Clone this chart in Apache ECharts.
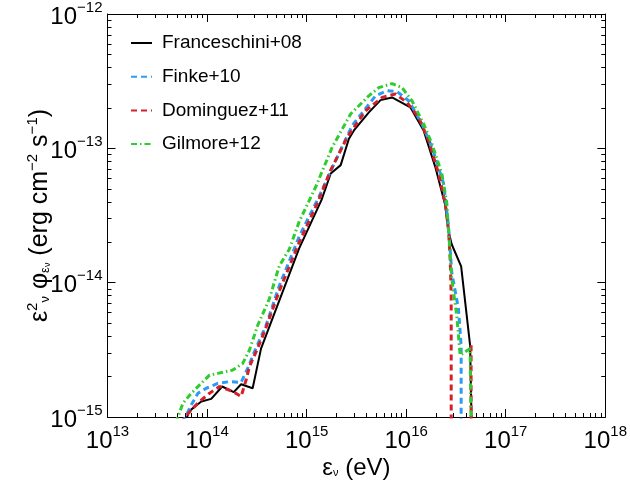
<!DOCTYPE html>
<html><head><meta charset="utf-8">
<script src="https://cdn.jsdelivr.net/npm/echarts@6/dist/echarts.min.js"></script>
<style>html,body{margin:0;padding:0;background:#fff}#c{width:630px;height:485px}</style>
</head><body><div id="c"></div>
<script>
// Series names (legend order)
const seriesNames = ['Franceschini+08', 'Finke+10', 'Dominguez+11', 'Gilmore+12'];

// All values are log10(E / eV) and log10(flux / erg cm^-2 s^-1)
const franceschiniLogE = [13.765, 13.818, 13.942, 14.042, 14.152, 14.268, 14.342, 14.458, 14.542, 14.925, 15.150, 15.242, 15.342, 15.425, 15.475, 15.625, 15.742, 15.858, 16.042, 16.175, 16.292, 16.392, 16.425, 16.458, 16.552, 16.642, 16.658];
const franceschiniLogF = [-15.081, -14.958, -14.884, -14.865, -14.773, -14.815, -14.756, -14.786, -14.491, -13.745, -13.384, -13.187, -13.125, -12.928, -12.867, -12.732, -12.641, -12.621, -12.695, -12.867, -13.138, -13.421, -13.620, -13.716, -13.878, -14.466, -15.081];

const finkeLogE = [13.755, 13.842, 13.908, 13.992, 14.108, 14.225, 14.342, 14.408, 14.475, 14.592, 14.725, 14.925, 15.125, 15.292, 15.458, 15.692, 15.808, 15.908, 16.025, 16.158, 16.258, 16.375, 16.425, 16.458, 16.525, 16.552, 16.552];
const finkeLogF = [-15.044, -14.909, -14.823, -14.786, -14.749, -14.737, -14.742, -14.638, -14.515, -14.319, -14.024, -13.657, -13.359, -13.089, -12.830, -12.609, -12.572, -12.577, -12.646, -12.818, -12.990, -13.261, -13.581, -13.925, -14.196, -14.466, -15.081];

const dominguezLogE = [13.735, 13.842, 13.925, 14.025, 14.125, 14.258, 14.342, 14.392, 14.425, 14.492, 14.575, 14.725, 14.925, 15.108, 15.242, 15.408, 15.592, 15.758, 15.892, 16.008, 16.125, 16.225, 16.325, 16.392, 16.425, 16.442, 16.452, 16.452, null, 16.652, 16.652];
const dominguezLogF = [-15.044, -14.946, -14.884, -14.823, -14.773, -14.810, -14.847, -14.725, -14.626, -14.515, -14.368, -14.063, -13.701, -13.408, -13.162, -12.917, -12.720, -12.621, -12.596, -12.658, -12.769, -12.941, -13.187, -13.408, -13.605, -13.827, -14.097, -15.081, null, -14.466, -15.081];

const gilmoreLogE = [13.685, 13.758, 13.842, 13.942, 14.025, 14.108, 14.258, 14.358, 14.425, 14.508, 14.625, 14.725, 14.825, 14.925, 15.092, 15.258, 15.442, 15.625, 15.725, 15.858, 15.958, 16.058, 16.175, 16.258, 16.358, 16.408, 16.425, 16.458, 16.508, 16.542, 16.642, 16.652];
const gilmoreLogF = [-15.044, -14.897, -14.823, -14.749, -14.688, -14.675, -14.651, -14.601, -14.503, -14.319, -14.122, -13.876, -13.753, -13.546, -13.286, -12.990, -12.744, -12.609, -12.548, -12.518, -12.548, -12.646, -12.818, -12.965, -13.187, -13.408, -13.605, -13.974, -14.245, -14.540, -14.491, -15.081];

// Axis tick labels (decade exponents) and minor tick multipliers
const xTickExponents = [13, 14, 15, 16, 17, 18];
const yTickExponents = [-15, -14, -13, -12];
const minorMultipliers = [2, 3, 4, 5, 6, 7, 8, 9];

const colors = ['#000000', '#2b9bf4', '#d5202a', '#2fcc2f'];

function toPairs(le, lf) {
  return le.map((e, i) => (e === null || lf[i] === null) ? ['-', '-'] : [Math.pow(10, e), Math.pow(10, lf[i])]);
}
function minors(exps) {
  const out = [];
  for (let i = 0; i < exps.length - 1; i++) minorMultipliers.forEach(m => out.push(m * Math.pow(10, exps[i])));
  return out;
}
function expLabel(v) {
  const e = Math.round(Math.log10(v));
  return '{b|10}{s|' + (e < 0 ? '\u2212' + (-e) : e) + '}';
}

const FONT = 'Liberation Sans, Arial, Helvetica, sans-serif';
const labelRich = {
  b: { fontSize: 24, lineHeight: 30, fontFamily: FONT, color: '#000', verticalAlign: 'bottom' },
  s: { fontSize: 15, lineHeight: 15, fontFamily: FONT, color: '#000', verticalAlign: 'bottom', padding: [0, 0, 14, 0] }
};

const xMin = Math.pow(10, xTickExponents[0]), xMax = Math.pow(10, xTickExponents[xTickExponents.length - 1]);
const yMin = Math.pow(10, yTickExponents[0]), yMax = Math.pow(10, yTickExponents[yTickExponents.length - 1]);

function xAxisDef(pos, major, main) {
  return {
    type: 'log', logBase: 10, min: xMin, max: xMax, position: pos, gridIndex: 0,
    axisLine: { show: major, onZero: false, lineStyle: { color: '#000', width: 1 } },
    axisTick: { show: true, inside: true, length: major ? 8 : 4, lineStyle: { color: '#000', width: 1 },
      customValues: major ? undefined : minors(xTickExponents) },
    axisLabel: main ? { show: true, margin: 6, formatter: expLabel, rich: labelRich, showMinLabel: true, showMaxLabel: true, hideOverlap: false } : { show: false },
    splitLine: { show: false },
    name: main ? '{a|\u03b5}{u|\u03bd}{a| (eV)}' : '',
    nameLocation: 'middle', nameGap: 35, nameMoveOverlap: false,
    nameTextStyle: { rich: {
      a: { fontSize: 24, fontFamily: FONT, color: '#000', lineHeight: 28, verticalAlign: 'bottom' },
      u: { fontSize: 11, fontFamily: FONT, color: '#000', lineHeight: 11, verticalAlign: 'bottom', padding: [0, 0, 2, 0] }
    } }
  };
}
function yAxisDef(pos, major, main) {
  return {
    type: 'log', logBase: 10, min: yMin, max: yMax, position: pos, gridIndex: 0,
    axisLine: { show: major, onZero: false, lineStyle: { color: '#000', width: 1 } },
    axisTick: { show: true, inside: true, length: major ? 8 : 4, lineStyle: { color: '#000', width: 1 },
      customValues: major ? undefined : minors(yTickExponents) },
    axisLabel: main ? { show: true, margin: 5, formatter: expLabel, rich: labelRich, showMinLabel: true, showMaxLabel: true, hideOverlap: false } : { show: false },
    splitLine: { show: false },
    name: main ? '{a|\u03b5}{p|2}{d|\u03bd}{a| \u03c6}{d|\u03b5}{e|\u03bd}{a| (erg cm}{p|\u22122}{a| s}{p|\u22121}{a|)}' : '',
    nameLocation: 'middle', nameGap: 55, nameMoveOverlap: false,
    nameTextStyle: { rich: {
      a: { fontSize: 25, fontFamily: FONT, color: '#000', lineHeight: 28, verticalAlign: 'bottom' },
      p: { fontSize: 15, fontFamily: FONT, color: '#000', lineHeight: 15, verticalAlign: 'bottom', padding: [0, 0, 12, 0] },
      d: { fontSize: 13, fontFamily: FONT, color: '#000', lineHeight: 13, verticalAlign: 'bottom', padding: [0, 0, 1, 0] },
      e: { fontSize: 9, fontFamily: FONT, color: '#000', lineHeight: 9, verticalAlign: 'bottom', padding: [0, 0, 0, 0] }
    } }
  };
}

const dashStyles = ['solid', [6, 4], [6, 4], [6, 3, 1.5, 3]];
const widths = [2, 3, 3, 3];
const datasets = [
  toPairs(franceschiniLogE, franceschiniLogF),
  toPairs(finkeLogE, finkeLogF),
  toPairs(dominguezLogE, dominguezLogF),
  toPairs(gilmoreLogE, gilmoreLogF)
];

const chart = echarts.init(document.getElementById('c'), null, { renderer: 'canvas' });
chart.setOption({
  animation: false,
  backgroundColor: '#fff',
  grid: { left: 107.5, right: 22.5, top: 12.5, bottom: 66, containLabel: false },
  xAxis: [xAxisDef('bottom', true, true), xAxisDef('bottom', false, false), xAxisDef('top', true, false), xAxisDef('top', false, false)],
  yAxis: [yAxisDef('left', true, true), yAxisDef('left', false, false), yAxisDef('right', true, false), yAxisDef('right', false, false)],
  legend: {
    orient: 'vertical', left: 125, top: 28, itemWidth: 21, itemHeight: 20, itemGap: 13.7,
    itemStyle: { opacity: 0 },
    textStyle: { fontSize: 19, fontFamily: FONT, color: '#000', lineHeight: 20, padding: [0, 0, 0, 5] },
    data: seriesNames
  },
  series: seriesNames.map((n, i) => ({
    name: n, type: 'line', xAxisIndex: 0, yAxisIndex: 0,
    data: datasets[i], showSymbol: false, symbol: 'none', connectNulls: false, clip: true,
    lineStyle: { color: colors[i], width: widths[i], type: dashStyles[i] },
    itemStyle: { color: colors[i] },
    z: 2 + i
  }))
});
</script>
</body></html>
